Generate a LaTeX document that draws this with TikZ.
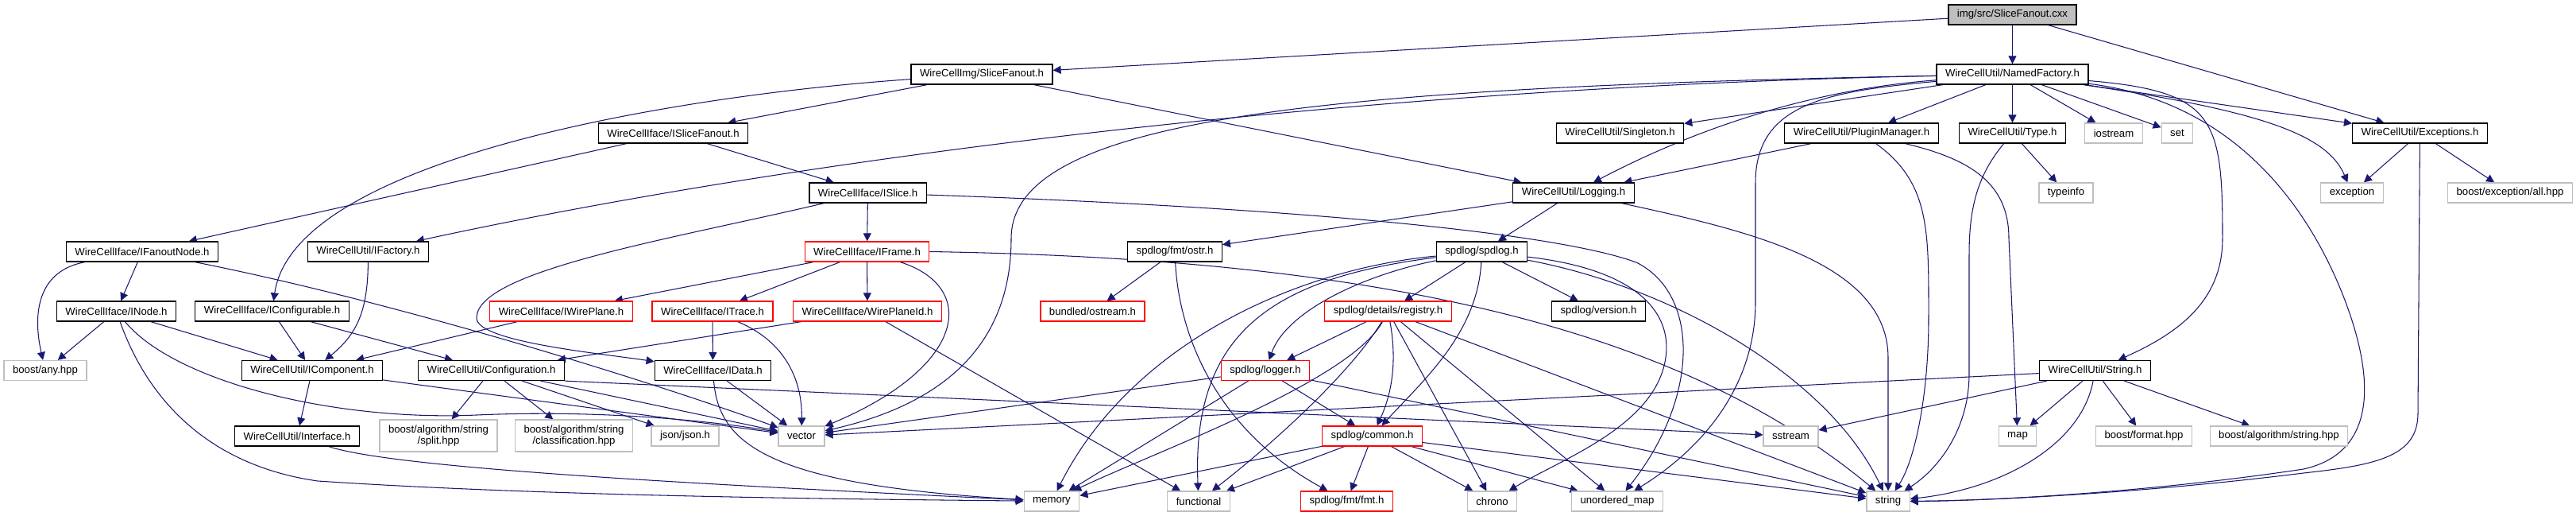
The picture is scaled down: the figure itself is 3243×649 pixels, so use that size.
\documentclass[tikz,border=0pt]{standalone}
\usepackage{fontspec}
\setmainfont{Liberation Sans}
\usepackage{xcolor}
\usepackage{tikz}
\usetikzlibrary{arrows.meta,backgrounds}
\definecolor{navy}{RGB}{25,25,112}
\definecolor{sysgray}{RGB}{191,191,191}
\definecolor{rootfill}{RGB}{191,191,191}
\tikzset{
  hdr/.style={draw=black, line width=0.7pt, fill=white, inner xsep=0.22cm, inner ysep=0pt,
    minimum height=0.5cm, font=\fontsize{7.5}{8.2}\selectfont},
  sys/.style={hdr, draw=sysgray},
  trunc/.style={hdr, draw=red},
  root/.style={hdr, fill=rootfill},
  twoline/.style={align=center, minimum height=0.8cm},
  % include edges
  inc/.style={draw=navy, line width=0.6pt, -{Triangle[length=0.2cm,width=0.2cm]}}
}

\begin{document}
\begin{tikzpicture}[x=0.02cm, y=-0.02cm]
  \useasboundingbox (0,0) rectangle (3243,649);
  % rank 0-1
  \node[root] (cxx) at (2533.5,18.5){img/src/SliceFanout.cxx};
  \node[hdr] (imgsf) at (1236,93.5){WireCellImg/SliceFanout.h};
  \node[hdr] (namedf) at (2533.5,93.5){WireCellUtil/NamedFactory.h};
  % rank 2
  \node[hdr] (isf) at (847.5,167.5){WireCellIface/ISliceFanout.h};
  \node[hdr] (singleton) at (2039.5,167.5){WireCellUtil/Singleton.h};
  \node[hdr] (plugin) at (2343.5,167.5){WireCellUtil/PluginManager.h};
  \node[hdr] (typeh) at (2533.5,167.5){WireCellUtil/Type.h};
  \node[sys] (iostream) at (2661,167.5){iostream};
  \node[sys] (setstl) at (2741,167.5){set};
  \node[hdr] (exceptions) at (3046.5,167.5){WireCellUtil/Exceptions.h};
  % rank 3
  \node[hdr] (islice) at (1092.5,242.5){WireCellIface/ISlice.h};
  \node[hdr] (logging) at (1981,242.5){WireCellUtil/Logging.h};
  \node[sys] (typeinfo) at (2601,242.5){typeinfo};
  \node[sys] (exception) at (2961,242.5){exception};
  \node[sys] (boostexc) at (3160,242.5){boost/exception/all.hpp};
  % rank 4
  \node[hdr] (ifanout) at (179,316.5){WireCellIface/IFanoutNode.h};
  \node[hdr] (ifactory) at (463.5,316.5){WireCellUtil/IFactory.h};
  \node[trunc] (iframe) at (1091.5,316.5){WireCellIface/IFrame.h};
  \node[hdr] (ostr) at (1479,316.5){spdlog/fmt/ostr.h};
  \node[hdr] (spdlog) at (1865.5,316.5){spdlog/spdlog.h};
  % rank 5
  \node[hdr] (inode) at (146.5,391.5){WireCellIface/INode.h};
  \node[hdr] (iconfig) at (342.5,391.5){WireCellIface/IConfigurable.h};
  \node[trunc] (iwireplane) at (706.5,391.5){WireCellIface/IWirePlane.h};
  \node[trunc] (itrace) at (897,391.5){WireCellIface/ITrace.h};
  \node[trunc] (wpid) at (1092,391.5){WireCellIface/WirePlaneId.h};
  \node[trunc] (bostream) at (1375.5,391.5){bundled/ostream.h};
  \node[trunc] (registry) at (1747.5,391.5){spdlog/details/registry.h};
  \node[hdr] (version) at (2012.5,391.5){spdlog/version.h};
  % rank 6
  \node[sys] (anyhpp) at (57,466){boost/any.hpp};
  \node[hdr] (icomp) at (393,466){WireCellUtil/IComponent.h};
  \node[hdr] (config) at (618.5,466){WireCellUtil/Configuration.h};
  \node[hdr] (idata) at (897.5,466){WireCellIface/IData.h};
  \node[trunc] (logger) at (1593,466){spdlog/logger.h};
  \node[hdr] (stringh) at (2637.5,466){WireCellUtil/String.h};
  % rank 7
  \node[hdr] (interface) at (374,548.5){WireCellUtil/Interface.h};
  \node[sys, twoline] (split) at (552,548){boost/algorithm/string\\/split.hpp};
  \node[sys, twoline] (classif) at (722.5,548){boost/algorithm/string\\/classification.hpp};
  \node[sys] (json) at (862.5,548.5){json/json.h};
  \node[sys] (vector) at (1009,548.5){vector};
  \node[trunc] (common) at (1727.5,548.5){spdlog/common.h};
  \node[sys] (sstream) at (2254.5,548.5){sstream};
  \node[sys] (mapstl) at (2540,548.5){map};
  \node[sys] (bformat) at (2699,548.5){boost/format.hpp};
  \node[sys] (balgo) at (2869,548.5){boost/algorithm/string.hpp};
  % rank 8
  \node[sys] (memory) at (1324,630.5){memory};
  \node[sys] (functional) at (1509,630.5){functional};
  \node[trunc] (fmt) at (1695.5,630.5){spdlog/fmt/fmt.h};
  \node[sys] (chrono) at (1878.5,630.5){chrono};
  \node[sys] (umap) at (2036,630.5){unordered\_map};
  \node[sys] (stringstl) at (2377,630.5){string};

  \begin{scope}[on background layer]
    \draw[inc] (cxx) -- (imgsf);
    \draw[inc] (cxx) -- (namedf);
    \draw[inc] (cxx) -- (exceptions);
    \draw[inc] (imgsf) -- (isf);
    \draw[inc] (imgsf) .. controls (850,120) and (370,200) .. (iconfig);
    \draw[inc] (imgsf) -- (logging);
    \draw[inc] (namedf) .. controls (1700,110) and (1000,200) .. (ifactory);
    \draw[inc] (namedf) .. controls (1650,110) and (1273,150) .. (1273,300) .. controls (1273,440) and (1180,510) .. (vector);
    \draw[inc] (namedf) -- (singleton);
    \draw[inc] (namedf) .. controls (2250,115) and (2100,180) .. (logging);
    \draw[inc] (namedf) -- (plugin);
    \draw[inc] (namedf) -- (typeh);
    \draw[inc] (namedf) -- (iostream);
    \draw[inc] (namedf) -- (setstl);
    \draw[inc] (namedf) -- (exceptions);
    \draw[inc] (namedf) .. controls (2850,140) and (2930,170) .. (exception);
    \draw[inc] (namedf) .. controls (2790,115) and (2798,150) .. (2798,300) .. controls (2798,380) and (2740,420) .. (stringh);
    \draw[inc] (namedf) .. controls (2790,125) and (2890,230) .. (2945,360) .. controls (2995,480) and (2990,570) .. (2900,590) .. controls (2700,620) and (2500,630) .. (stringstl);
    \draw[inc] (namedf) .. controls (2300,115) and (2210,130) .. (2210,230) -- (2210,380) .. controls (2210,480) and (2150,560) .. (umap);
    \draw[inc] (plugin) -- (logging);
    \draw[inc] (plugin) .. controls (2430,230) and (2428,290) .. (2428,400) .. controls (2428,500) and (2410,580) .. (stringstl);
    \draw[inc] (plugin) .. controls (2480,200) and (2529,230) .. (2529,300) -- (mapstl);
    \draw[inc] (typeh) -- (typeinfo);
    \draw[inc] (typeh) .. controls (2490,220) and (2479,260) .. (2479,320) -- (2479,470) .. controls (2479,540) and (2440,590) .. (stringstl);
    \draw[inc] (exceptions) -- (exception);
    \draw[inc] (exceptions) -- (boostexc);
    \draw[inc] (exceptions) -- (3044,520) .. controls (3044,575) and (2990,585) .. (2900,595) .. controls (2700,620) and (2500,630) .. (stringstl);
    \draw[inc] (stringh) -- (vector);
    \draw[inc] (stringh) -- (sstream);
    \draw[inc] (stringh) -- (mapstl);
    \draw[inc] (stringh) .. controls (2620,560) and (2520,615) .. (stringstl);
    \draw[inc] (stringh) -- (bformat);
    \draw[inc] (stringh) -- (balgo);
    \draw[inc] (isf) -- (ifanout);
    \draw[inc] (isf) -- (islice);
    \draw[inc] (islice) -- (iframe);
    \draw[inc] (islice) .. controls (850,300) and (600,340) .. (600,400) .. controls (600,430) and (760,445) .. (idata);
    \draw[inc] (islice) .. controls (1600,260) and (1950,290) .. (2060,330) .. controls (2140,370) and (2140,500) .. (umap);
    \draw[inc] (logging) -- (ostr);
    \draw[inc] (logging) -- (spdlog);
    \draw[inc] (logging) .. controls (2200,290) and (2377,330) .. (2377,450) -- (stringstl);
    \draw[inc] (ifanout) -- (inode);
    \draw[inc] (ifanout) .. controls (50,340) and (40,390) .. (anyhpp);
    \draw[inc] (ifanout) .. controls (500,380) and (820,480) .. (vector);
    \draw[inc] (ifactory) .. controls (463,390) and (450,420) .. (icomp);
    \draw[inc] (iframe) -- (iwireplane);
    \draw[inc] (iframe) -- (itrace);
    \draw[inc] (iframe) -- (wpid);
    \draw[inc] (iframe) .. controls (1230,360) and (1220,460) .. (vector);
    \draw[inc] (iframe.east) .. controls (1700,325) and (2100,400) .. (stringstl);
    \draw[inc] (ostr) -- (bostream);
    \draw[inc] (ostr) .. controls (1484,420) and (1530,540) .. (fmt);
    \draw[inc] (spdlog) -- (registry);
    \draw[inc] (spdlog) -- (version);
    \draw[inc] (spdlog) .. controls (1860,420) and (1790,480) .. (common);
    \draw[inc] (spdlog) .. controls (1720,345) and (1620,390) .. (logger);
    \draw[inc] (spdlog) .. controls (1620,340) and (1420,440) .. (memory);
    \draw[inc] (spdlog) .. controls (1600,350) and (1500,420) .. (functional);
    \draw[inc] (spdlog) .. controls (2070,340) and (2110,400) .. (2095,460) .. controls (2075,540) and (1960,580) .. (chrono);
    \draw[inc] (spdlog) .. controls (2100,360) and (2300,470) .. (stringstl);
    \draw[inc] (inode) -- (anyhpp);
    \draw[inc] (inode) -- (icomp);
    \draw[inc] (inode) .. controls (220,480) and (420,530) .. (600,522) .. controls (760,515) and (900,530) .. (vector);
    \draw[inc] (inode) .. controls (185,500) and (260,585) .. (400,605) .. controls (700,625) and (1100,628) .. (memory);
    \draw[inc] (iconfig) -- (icomp);
    \draw[inc] (iconfig) -- (config);
    \draw[inc] (iwireplane) -- (icomp);
    \draw[inc] (itrace) -- (idata);
    \draw[inc] (itrace) .. controls (990,430) and (1010,480) .. (vector);
    \draw[inc] (wpid) -- (config);
    \draw[inc] (wpid) -- (functional);
    \draw[inc] (registry) -- (logger);
    \draw[inc] (registry) .. controls (1760,460) and (1750,500) .. (common);
    \draw[inc] (registry) .. controls (1700,470) and (1600,560) .. (functional);
    \draw[inc] (registry) .. controls (1700,480) and (1450,570) .. (memory);
    \draw[inc] (registry) -- (chrono);
    \draw[inc] (registry) -- (umap);
    \draw[inc] (registry) -- (stringstl);
    \draw[inc] (logger) -- (vector);
    \draw[inc] (logger) -- (memory);
    \draw[inc] (logger) -- (common);
    \draw[inc] (logger) -- (stringstl);
    \draw[inc] (common) -- (fmt);
    \draw[inc] (common) -- (chrono);
    \draw[inc] (common) -- (umap);
    \draw[inc] (common) -- (stringstl);
    \draw[inc] (common) -- (memory);
    \draw[inc] (common) -- (functional);
    \draw[inc] (icomp) -- (interface);
    \draw[inc] (icomp) -- (vector);
    \draw[inc] (interface) .. controls (500,590) and (900,610) .. (memory);
    \draw[inc] (config) -- (split);
    \draw[inc] (config) -- (classif);
    \draw[inc] (config) -- (json);
    \draw[inc] (config) -- (vector);
    \draw[inc] (config.south east) -- (sstream);
    \draw[inc] (idata) -- (vector);
    \draw[inc] (idata) .. controls (905,560) and (970,610) .. (memory);
  \end{scope}
\end{tikzpicture}
\end{document}
